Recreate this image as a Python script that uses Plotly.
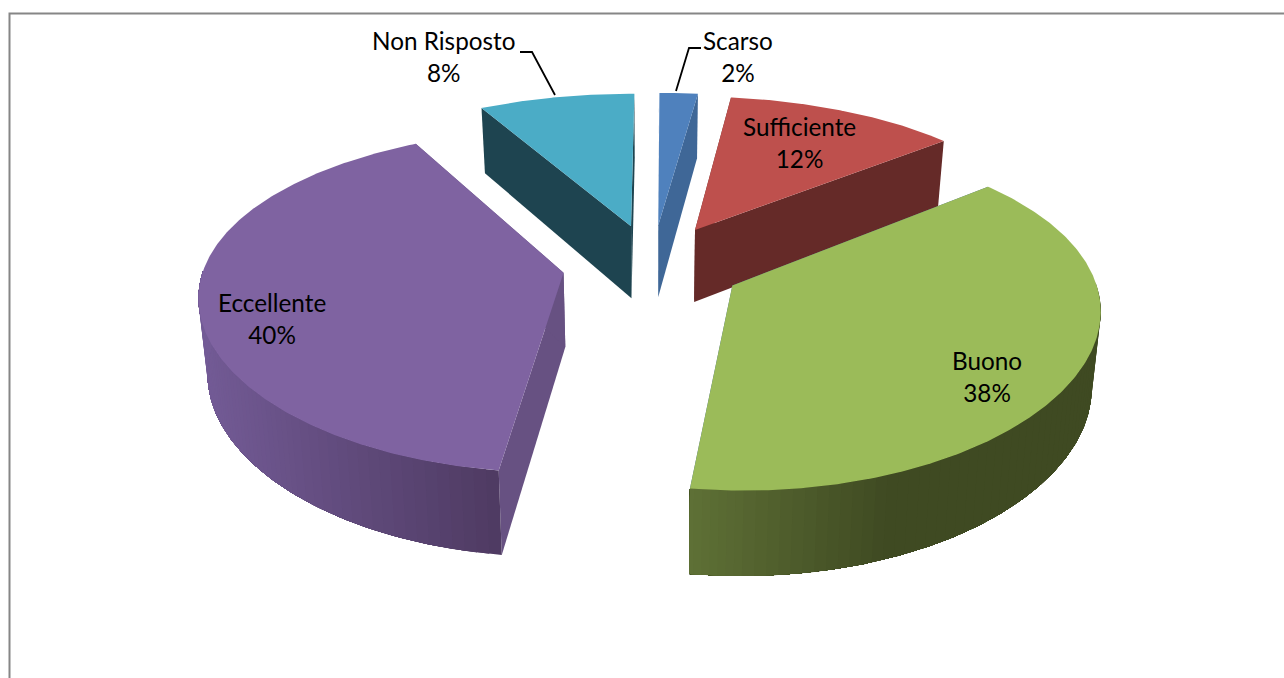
import numpy as np
import plotly.graph_objects as go

categories = ["Scarso", "Sufficiente", "Buono", "Eccellente", "Non Risposto"]
values = [2, 12, 38, 40, 8]
top_colors = ["#4F81BD", "#BE504D", "#9BBB59", "#7F63A1", "#4BACC6"]
wall_colors = ["#3F6797", "#652A28", "#3F6797", "#675182", "#1E4450"]
rim_left = ["#4F81BD", "#C0504D", "#5F7136", "#735B96", "#4BACC6"]
rim_right = ["#4F81BD", "#C0504D", "#3F4A22", "#4F3B63", "#4BACC6"]
rim_stop = [1.0, 1.0, 0.5, 1.0, 1.0]
draw_order = [4, 0, 1, 3, 2]

CX, CY = 652.5, 265.0
R, EXPLODE, DEPTH = 359.0, 90.0, 74.0
TILT, FOCAL_X, FOCAL_Y, FOCAL_D = 0.46, 3000.0, 2250.0, 3000.0
ROTATION = np.radians(0.2)
CONVERGE = 0.98


def project(wx, wd, drop=0.0):
    sx = FOCAL_X / (FOCAL_X + wd)
    sy = FOCAL_Y / (FOCAL_Y + wd)
    sd = FOCAL_D / (FOCAL_D + wd)
    k = CONVERGE if drop else 1.0
    return CX + wx * sx * k, CY - TILT * wd * sy + drop * sd


fracs = np.cumsum([0] + values) / sum(values) * 2 * np.pi + ROTATION
fig = go.Figure()


def poly(xs, ys, color):
    fig.add_trace(go.Scatter(x=list(xs), y=list(ys), mode="lines", fill="toself",
                             fillcolor=color, line=dict(color=color, width=0),
                             hoverinfo="skip", showlegend=False))


def mix(a, b, t):
    ca = [int(a[i:i + 2], 16) for i in (1, 3, 5)]
    cb = [int(b[i:i + 2], 16) for i in (1, 3, 5)]
    return "rgb(%d,%d,%d)" % tuple(round(p + (q - p) * t) for p, q in zip(ca, cb))


for i in draw_order:
    a0, a1 = fracs[i], fracs[i + 1]
    mid = (a0 + a1) / 2
    ax, ad = EXPLODE * np.sin(mid), EXPLODE * np.cos(mid)
    th = np.linspace(a0, a1, 240)
    wx, wd = ax + R * np.sin(th), ad + R * np.cos(th)
    # radial walls
    for a in (a0, a1):
        ex, ed = ax + R * np.sin(a), ad + R * np.cos(a)
        p = [project(ax, ad), project(ex, ed), project(ex, ed, DEPTH), project(ax, ad, DEPTH)]
        poly([q[0] for q in p] + [p[0][0]], [q[1] for q in p] + [p[0][1]], wall_colors[i])
    # outer rim, painted strip over strip so no seams show
    idx = np.where(np.cos(th) < 0.02)[0]
    if len(idx) > 1:
        n = 60
        cuts = np.array_split(idx, n)
        xs_all = project(wx[idx], wd[idx])[0]
        xmin, xmax = xs_all.min(), xs_all.max()
        for c in range(n):
            ids = np.concatenate(cuts[c:])
            tx, ty = project(wx[ids], wd[ids])
            bx, by = project(wx[ids], wd[ids], DEPTH)
            t = min(1.0, (tx[0] - xmin) / (xmax - xmin) / rim_stop[i])
            poly(np.r_[tx, bx[::-1], tx[0]], np.r_[ty, by[::-1], ty[0]],
                 mix(rim_left[i], rim_right[i], t))
    # top face
    px, py = project(wx, wd)
    apx, apy = project(ax, ad)
    poly(np.r_[apx, px, apx], np.r_[apy, py, apy], top_colors[i])

FONT = dict(family="Lato", size=24.3, color="#000000")
label_pos = {"Scarso": (738, 56), "Sufficiente": (799, 142), "Buono": (987, 376),
             "Eccellente": (272, 318), "Non Risposto": (443, 56)}
for cat, v in zip(categories, values):
    x, y = label_pos[cat]
    fig.add_annotation(x=x, y=y, text=f"{cat}<br>{v}%", showarrow=False, font=FONT,
                       align="center", xanchor="center", yanchor="middle")

leaders = [([520, 532, 555], [52, 52, 95]), ([701, 689, 676], [48, 48, 91])]
for lx, ly in leaders:
    fig.add_trace(go.Scatter(x=lx, y=ly, mode="lines", line=dict(color="#000000", width=1.8),
                             hoverinfo="skip", showlegend=False))

fig.add_shape(type="rect", x0=9.5, y0=13.5, x1=1320, y1=720, line=dict(color="#868686", width=2), layer="below")
fig.update_layout(width=1284, height=678, margin=dict(l=0, r=0, t=0, b=0),
                  paper_bgcolor="white", plot_bgcolor="white", showlegend=False,
                  xaxis=dict(range=[0, 1284], visible=False, fixedrange=True),
                  yaxis=dict(range=[678, 0], visible=False, fixedrange=True))
fig.write_html("out.html", config=dict(displayModeBar=False),
               post_script="document.body.style.margin='0';document.body.style.overflow='hidden';")
